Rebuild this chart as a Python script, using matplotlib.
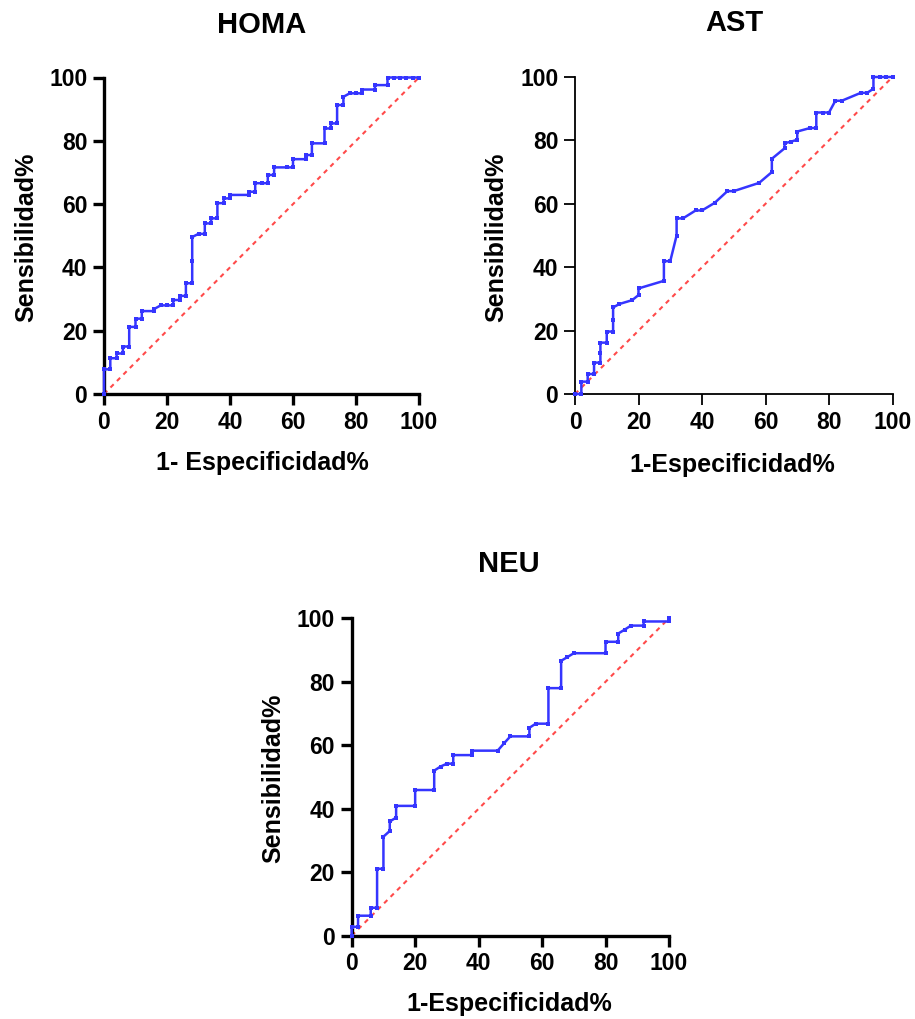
import matplotlib
matplotlib.use("Agg")
import matplotlib.pyplot as plt

plt.rcParams['font.family'] = ['Liberation Sans', 'DejaVu Sans']
plt.rcParams['font.weight'] = 'bold'

# ROC points: 1-specificity (%) and sensitivity (%)
homa_fpr = [0, 0, 2, 2, 4, 4, 6, 6, 8, 8, 10, 10, 12, 12, 16, 16, 18, 20, 22, 22, 24, 24, 26,
            26, 28, 28, 28, 30, 32, 32, 34, 34, 36, 36, 38, 38, 40, 40, 46, 46, 48, 48, 50,
            52, 52, 54, 54, 58, 60, 60, 64, 64, 66, 66, 70, 70, 72, 72, 74, 74, 76, 76, 78,
            80, 82, 82, 86, 86, 90, 90, 92, 94, 96, 98, 100]
homa_tpr = [0, 7.8, 7.8, 11.3, 11.3, 12.8, 12.8, 15, 15, 21.2, 21.2, 23.8, 23.8, 26.2, 26.2,
            26.9, 28, 28, 28, 29.7, 29.7, 31, 31, 35, 35, 42, 49.6, 50.6, 50.6, 53.9, 53.9,
            55.5, 55.5, 60.3, 60.3, 61.8, 61.8, 62.9, 62.9, 63.9, 63.9, 66.6, 66.6, 66.6,
            69.2, 69.2, 71.6, 71.6, 71.6, 74.2, 74.2, 75.5, 75.5, 79.2, 79.2, 83.9, 83.9,
            85.5, 85.5, 91.3, 91.3, 93.9, 95, 95, 95, 96.2, 96.2, 97.6, 97.6, 100, 100, 100,
            100, 100, 100]

ast_fpr = [0, 2, 2, 4, 4, 6, 6, 8, 8, 8, 10, 10, 12, 12, 12, 14, 18, 20, 20, 28, 28, 30, 32,
           32, 34, 38, 40, 44, 48, 50, 58, 62, 62, 66, 66, 68, 70, 70, 74, 76, 76, 78, 80, 82,
           84, 90, 92, 94, 94, 96, 98, 100]
ast_tpr = [0, 0, 3.9, 3.9, 6.3, 6.3, 9.9, 9.9, 13, 16.2, 16.2, 19.7, 19.7, 23.5, 27.3, 28.4,
           29.6, 31.2, 33.3, 35.7, 41.9, 41.9, 50, 55.4, 55.4, 57.9, 57.9, 60.3, 64, 64, 66.6,
           70, 74.2, 77.5, 79.1, 79.6, 80.2, 82.8, 83.9, 83.9, 88.8, 88.8, 88.8, 92.5, 92.5,
           95, 95, 96.3, 100, 100, 100, 100]

neu_fpr = [0, 0, 2, 2, 6, 6, 8, 8, 10, 10, 12, 12, 14, 14, 20, 20, 26, 26, 28, 30, 32, 32, 38,
           38, 46, 48, 50, 56, 56, 58, 62, 62, 66, 66, 68, 70, 80, 80, 84, 84, 86, 88, 92, 92,
           100, 100]
neu_tpr = [0, 2.8, 2.8, 6.3, 6.3, 8.8, 8.8, 21.1, 21.1, 31.2, 33, 36, 37.2, 40.9, 40.9, 45.9,
           45.9, 52, 53.3, 54.2, 54.2, 56.9, 56.9, 58.3, 58.3, 60.6, 62.8, 62.8, 65.5, 66.8,
           66.8, 78, 78, 86.6, 87.8, 89, 89, 92.6, 92.6, 95.2, 96.4, 97.7, 97.7, 99, 99, 100]

ticks = [0, 20, 40, 60, 80, 100]

W, H = 915, 1019
fig = plt.figure(figsize=(W / 100, H / 100), dpi=100)


def px(x, y):
    return x / W, 1 - y / H


def roc_panel(left, top, right, bottom, fpr, tpr, spine_w, title, tpos, xlab, xpos, ypos):
    l, t = px(left, top)
    r, b = px(right, bottom)
    ax = fig.add_axes([l, b, r - l, t - b])
    ax.plot([0, 100], [0, 100], color='#ff4a4a', lw=1.5, dashes=(2.2, 2.2), zorder=2)
    ax.plot(fpr, tpr, color='#3535ff', lw=1.8, marker='s', ms=3, mew=0, zorder=3,
            clip_on=False)
    ax.set_xlim(0, 100)
    ax.set_ylim(0, 100)
    ax.set_xticks(ticks)
    ax.set_yticks(ticks)
    for s in ['top', 'right']:
        ax.spines[s].set_visible(False)
    for s in ['left', 'bottom']:
        ax.spines[s].set_linewidth(spine_w)
    ax.tick_params(direction='out', length=8, width=spine_w, labelsize=16.5, pad=4)
    for lab in ax.get_xticklabels() + ax.get_yticklabels():
        lab.set_fontweight('bold')
    fig.text(*px(*tpos), title, ha='center', va='center', fontsize=21, fontweight='bold')
    fig.text(*px(*xpos), xlab, ha='center', va='center', fontsize=18, fontweight='bold')
    fig.text(*px(*ypos), 'Sensibilidad%', ha='center', va='center', rotation=90,
             fontsize=18, fontweight='bold')
    return ax


roc_panel(104, 77.5, 419, 394, homa_fpr, homa_tpr, 2.4, 'HOMA', (262, 25),
          '1- Especificidad%', (262, 463), (26, 237))
roc_panel(575, 77, 892.5, 394, ast_fpr, ast_tpr, 1.3, 'AST', (734, 23),
          '1-Especificidad%', (732, 465), (496, 237))
roc_panel(351.7, 618.3, 669, 935.7, neu_fpr, neu_tpr, 2.4, 'NEU', (509, 564),
          '1-Especificidad%', (509, 1004), (273, 778))

fig.savefig('out.png', dpi=100)
